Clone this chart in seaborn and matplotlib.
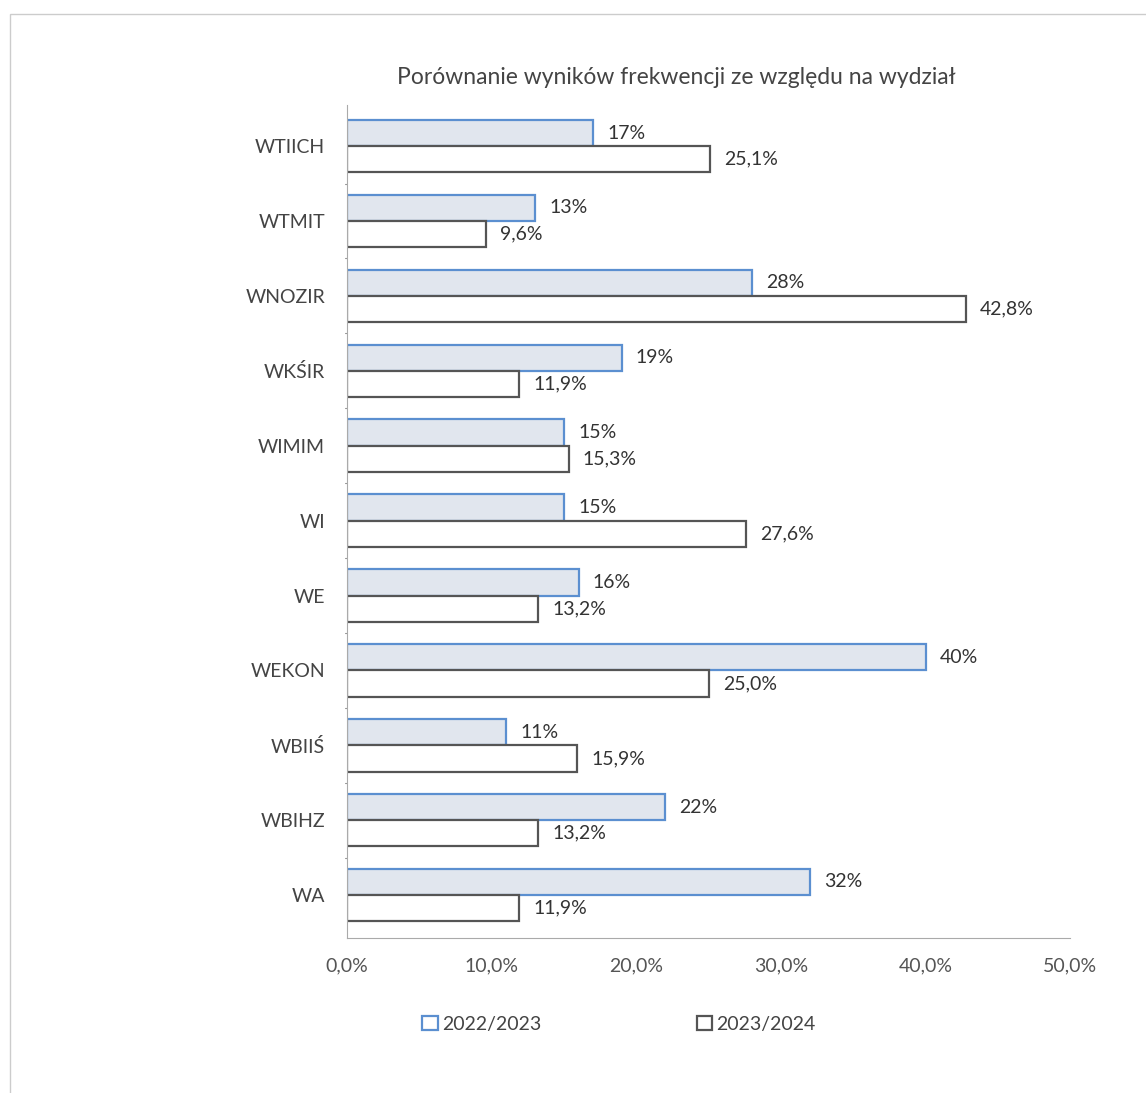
import seaborn as sns
import pandas as pd
import matplotlib.pyplot as plt
from matplotlib.patches import Patch, Rectangle

wydzialy = ["WTIICH", "WTMIT", "WNOZIR", "WKŚIR", "WIMIM", "WI", "WE",
            "WEKON", "WBIIŚ", "WBIHZ", "WA"]
rok_2022 = [17, 13, 28, 19, 15, 15, 16, 40, 11, 22, 32]
rok_2023 = [25.1, 9.6, 42.8, 11.9, 15.3, 27.6, 13.2, 25.0, 15.9, 13.2, 11.9]
lata = ["2022/2023", "2023/2024"]
x_ticks = [0, 10, 20, 30, 40, 50]

df = pd.DataFrame({
    "wydzial": wydzialy * 2,
    "wynik": rok_2022 + rok_2023,
    "rok": [lata[0]] * len(wydzialy) + [lata[1]] * len(wydzialy),
})

sns.set_style("white")
plt.rcParams['font.family'] = ['Lato', 'DejaVu Sans']

fig = plt.figure(figsize=(11.46, 10.93), dpi=100)
ax = fig.add_axes([0.303, 0.142, 0.631, 0.762])

ax = sns.barplot(df, y="wydzial", x="wynik", hue="rok", orient="h",
                 width=0.7, ax=ax, legend=False,
                 palette={lata[0]: "#dfe5f0", lata[1]: "white"})

edges = {lata[0]: "#5b8fd0", lata[1]: "#555555"}
for cont, rok in zip(ax.containers, lata):
    for bar in cont:
        bar.set_edgecolor(edges[rok])
        bar.set_linewidth(1.6)
    if rok == lata[0]:
        labels = [f"{v:.0f}%" for v in rok_2022]
    else:
        labels = [f"{v:.1f}%".replace(".", ",") for v in rok_2023]
    ax.bar_label(cont, labels=labels, padding=10, fontsize=14, color="#333333")

ax.set_xlim(0, 50)
ax.set_ylim(len(wydzialy) - 1 + 0.57, -0.55)
ax.set_xticks(x_ticks)
ax.set_xticklabels([f"{t:.1f}%".replace(".", ",") for t in x_ticks],
                   fontsize=14, color="#555555")
ax.tick_params(axis="x", pad=14, length=4, color="#999999", direction="in")
ax.tick_params(axis="y", pad=16, length=0, labelsize=14, labelcolor="#444444")
ax.set_xlabel("")
ax.set_ylabel("")
ax.set_title("Porównanie wyników frekwencji ze względu na wydział",
             fontsize=16.5, color="#444444", pad=15, x=0.455)

for s in ["top", "right"]:
    ax.spines[s].set_visible(False)
ax.spines["left"].set_color("#aaaaaa")
ax.spines["bottom"].set_color("#aaaaaa")
ax.spines["bottom"].set_linestyle((0, (4, 1)))

# small separators on the category axis
for i in range(len(wydzialy) - 1):
    ax.plot([-0.15, 0], [i + 0.5, i + 0.5], color="#999999", lw=0.8,
            clip_on=False)

handles = [Patch(facecolor="white", edgecolor=edges[r], linewidth=1.6, label=r)
           for r in lata]
fig.legend(handles=handles, loc="center", bbox_to_anchor=(0.54, 0.063),
           ncol=2, frameon=False, fontsize=14, columnspacing=8,
           handlelength=0.8, handleheight=0.8, handletextpad=0.2,
           labelcolor="#444444")

fig.patches.append(Rectangle((0.009, -0.01), 1.0, 0.997, transform=fig.transFigure,
                             fill=False, edgecolor="#cccccc", linewidth=1))

fig.savefig("out.png", dpi=100)
